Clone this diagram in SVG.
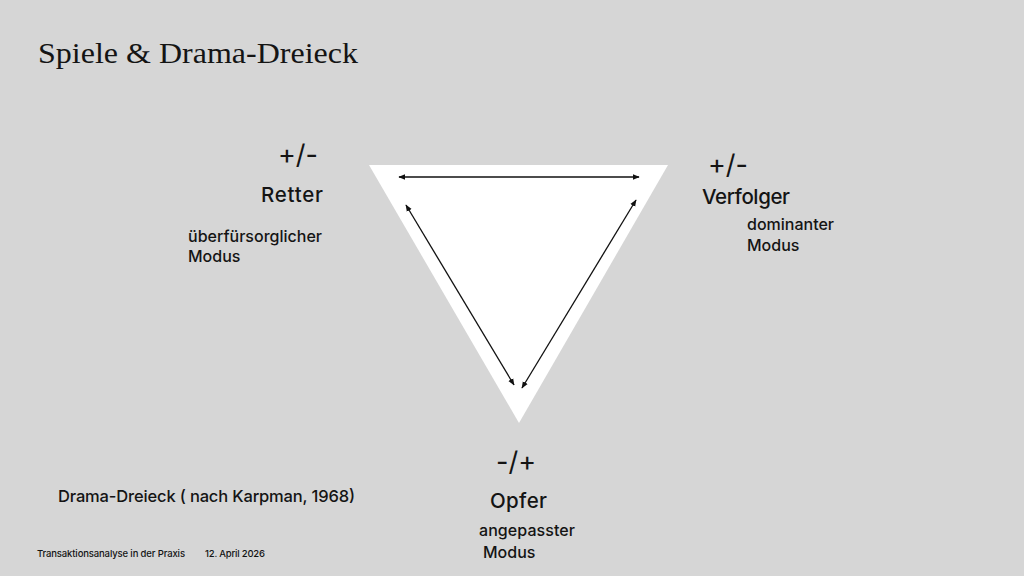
<svg xmlns="http://www.w3.org/2000/svg" width="1024" height="576" viewBox="0 0 1024 576">
<style>
.s{font-family:Inter,"Liberation Sans",sans-serif;fill:#141414;font-weight:500}
.title{font-family:"Liberation Serif","DejaVu Serif",serif;font-size:29px;fill:#141414}
.sign{font-size:27px;font-weight:400}
.role{font-size:20.5px}
.mode{font-size:16px}
.cap{font-size:16.5px}
.foot{font-size:9.5px}
.arr{stroke:#111;stroke-width:1.3;fill:none;marker-start:url(#ah);marker-end:url(#ah)}
</style>
<defs>
<marker id="ah" viewBox="0 0 10 10" refX="9" refY="5" markerWidth="7" markerHeight="7" orient="auto-start-reverse" markerUnits="userSpaceOnUse">
<path d="M0,1 L10,5 L0,9 z" fill="#111"/>
</marker>
</defs>
<rect width="1024" height="576" fill="#d6d6d6"/>
<text class="title" x="38" y="63" textLength="320" lengthAdjust="spacingAndGlyphs">Spiele &amp; Drama-Dreieck</text>
<g id="triangle">
<polygon points="369,165 668,165 519,423" fill="#ffffff"/>
</g>
<g id="connectors">
<line class="arr" x1="399" y1="177" x2="639" y2="177"/>
<line class="arr" x1="406" y1="205" x2="514" y2="385"/>
<line class="arr" x1="636" y1="200" x2="522" y2="388"/>
</g>
<g id="retter">
<text class="s sign" x="278" y="164">+/-</text>
<text class="s role" x="261" y="202" textLength="62">Retter</text>
<text class="s mode" x="188" y="242" textLength="134">überfürsorglicher</text>
<text class="s mode" x="188" y="262">Modus</text>
</g>
<g id="verfolger">
<text class="s sign" x="708" y="174">+/-</text>
<text class="s role" x="702" y="204" textLength="88">Verfolger</text>
<text class="s mode" x="747" y="230">dominanter</text>
<text class="s mode" x="747" y="251">Modus</text>
</g>
<g id="opfer">
<text class="s sign" x="496" y="471">-/+</text>
<text class="s role" x="490" y="508" textLength="57">Opfer</text>
<text class="s mode" x="479" y="536" textLength="96">angepasster</text>
<text class="s mode" x="483" y="558">Modus</text>
</g>
<text class="s cap" x="58" y="502" textLength="297">Drama-Dreieck ( nach Karpman, 1968)</text>
<text class="s foot" x="37" y="557" textLength="148">Transaktionsanalyse in der Praxis</text>
<text class="s foot" x="205" y="557" textLength="60">12. April 2026</text>
</svg>
